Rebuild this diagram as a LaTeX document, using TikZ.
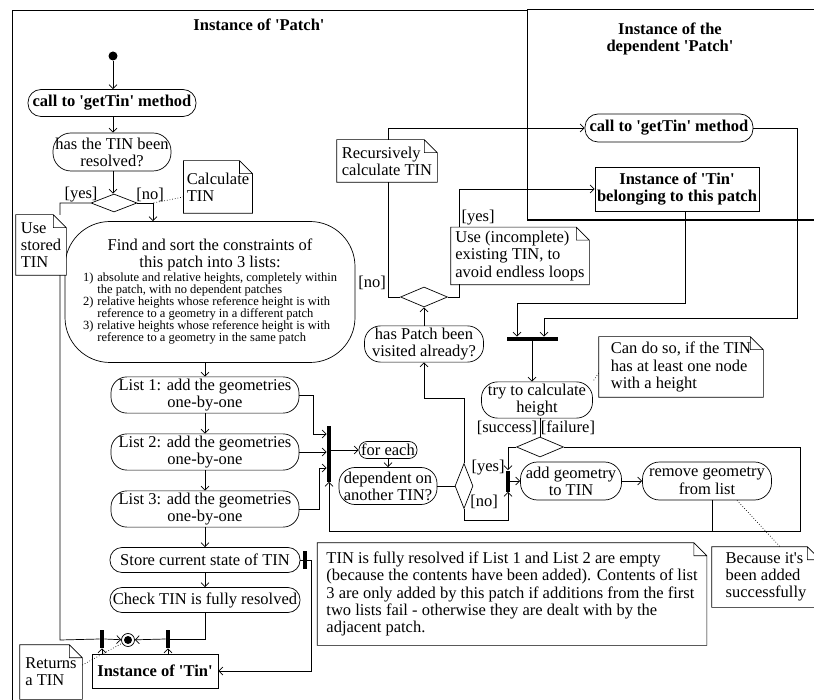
\documentclass[tikz,border=0pt]{standalone}
\usepackage{fontspec}
\setmainfont{Liberation Serif}
\usetikzlibrary{arrows.meta,shapes.geometric}
\newcommand{\quoted}[1]{\textquotesingle#1\textquotesingle}
\newcommand{\listfont}{\fontsize{12.5}{10.7}\selectfont}
\newcommand{\boldfont}{\fontsize{16.5}{17.2}\selectfont\bfseries}
% note outline with a folded corner
\newcommand{\notefold}[1]{%
  \draw ([xshift=-13pt]#1.north east) -- (#1.north west) -- (#1.south west)
    -- (#1.south east) -- ([yshift=-13pt]#1.north east) -- cycle
    ([xshift=-13pt]#1.north east) |- ([yshift=-13pt]#1.north east);}

\begin{document}
\begin{tikzpicture}[
  x=1pt, y=-1pt,
  font=\fontsize{16.5}{17.2}\selectfont,
  line width=0.7pt,
  act/.style={draw, rounded corners=14pt, align=center, inner sep=2pt},
  obj/.style={draw, align=center, inner sep=2pt, font=\boldfont},
  dec/.style={draw, diamond, inner sep=0pt},
  bar/.style={fill=black, inner sep=0pt},
  note/.style={fill=white, align=left, inner sep=3pt},
  guard/.style={inner sep=1pt},
  flow/.style={-{Straight Barb[length=4pt,width=8pt]}},
  hint/.style={dotted}
]
\useasboundingbox (0,0) rectangle (814,700);

% swimlane frames
\draw (12,700) |- (527,10);
\draw (814,9) -| (527,220);
\draw[line width=1.2pt] (527,220) -- (814,220);
\node[font=\boldfont] (ptitle) at (259,25) {Instance of \quoted{Patch}};
\node[font=\boldfont, align=center] (dtitle) at (670,39) {Instance of the\\dependent \quoted{Patch}};

% main column
\node[circle, fill, inner sep=0pt, minimum size=9] (start) at (113,56) {};
\node[act, rounded corners=13pt, font=\boldfont, minimum width=168, minimum height=27] (call) at (112,103) {call to \quoted{getTin} method};
\node[act, rounded corners=18pt, minimum width=118, minimum height=38] (resolved) at (112,152) {has the TIN been\\resolved?};
\node[dec, minimum width=46, minimum height=18] (d1) at (114,203) {};
\node[act, rounded corners=45pt, minimum width=290, minimum height=141] (find) at (210,292) {Find and sort the constraints of\\this patch into 3 lists:\\[1pt]
  {\listfont\begin{tabular}{@{}l@{\hspace{4pt}}l@{}}
  1)&absolute and relative heights, completely within\\
    &the patch, with no dependent patches\\
  2)&relative heights whose reference height is with\\
    &reference to a geometry in a different patch\\
  3)&relative heights whose reference height is with\\
    &reference to a geometry in the same patch
  \end{tabular}}};
\node[act, rounded corners=16pt, minimum width=188, minimum height=35] (list1) at (205,395) {List 1: add the geometries\\one-by-one};
\node[act, rounded corners=16pt, minimum width=188, minimum height=35] (list2) at (205,452) {List 2: add the geometries\\one-by-one};
\node[act, rounded corners=16pt, minimum width=188, minimum height=36] (list3) at (205,509) {List 3: add the geometries\\one-by-one};
\node[act, rounded corners=12pt, minimum width=190, minimum height=25] (store) at (205,560) {Store current state of TIN};
\node[act, rounded corners=12pt, minimum width=190, minimum height=25] (check) at (205,600) {Check TIN is fully resolved};
\node[bar, minimum width=4, minimum height=18] (sbar) at (305,560) {};
\node[bar, minimum width=4, minimum height=18] (jbarL) at (102,639) {};
\node[bar, minimum width=4, minimum height=18] (jbarR) at (168,639) {};
\node[circle, draw, inner sep=0pt, minimum size=13] (final) at (128,640) {};
\fill (final.center) circle (4);
\node[obj, minimum width=126, minimum height=34] (tin) at (155,671) {Instance of \quoted{Tin}};

% loop over the geometries
\node[bar, minimum width=4, minimum height=55] (fbar) at (329,454) {};
\node[act, rounded corners=8pt, minimum width=58, minimum height=17] (foreach) at (388,450) {for each};
\node[act, rounded corners=16pt, minimum width=98, minimum height=37] (dep) at (388,486) {dependent on\\another TIN?};
\node[dec, minimum width=18, minimum height=45] (d2) at (464,486) {};
\node[act, rounded corners=16pt, minimum width=119, minimum height=36] (visited) at (424,344) {has Patch been\\visited already?};
\node[dec, minimum width=47, minimum height=20] (d3) at (424,297) {};
\node[bar, minimum width=51, minimum height=4] (hbar) at (532,339) {};
\node[act, rounded corners=16pt, minimum width=111, minimum height=35] (trycalc) at (537,400) {try to calculate\\height};
\node[dec, minimum width=47, minimum height=20] (d4) at (540,447) {};
\node[bar, minimum width=4, minimum height=21] (abar) at (508,481) {};
\node[act, rounded corners=17pt, minimum width=101, minimum height=38] (add) at (571,481) {add geometry\\to TIN};
\node[act, rounded corners=17pt, minimum width=129, minimum height=38] (remove) at (707,481) {remove geometry\\from list};

% dependent patch
\node[act, rounded corners=13pt, font=\boldfont, minimum width=168, minimum height=28] (dcall) at (669,128) {call to \quoted{getTin} method};
\node[obj, minimum width=164, minimum height=44] (dtin) at (677,189) {Instance of \quoted{Tin}\\belonging to this patch};

% guards
\node[guard] (yes1) at (81,195) {[yes]};
\node[guard] (no1) at (150,195) {[no]};
\node[guard] (no2) at (372,283) {[no]};
\node[guard] (yes2) at (478,218) {[yes]};
\node[guard] (success) at (507,428) {[success]};
\node[guard] (failure) at (568,428) {[failure]};
\node[guard] (yes3) at (488,468) {[yes]};
\node[guard] (no3) at (484,502) {[no]};

\coordinate (cornerL) at (60,640);
\coordinate (nobranch) at (153,203);
\coordinate (sturn) at (311,560);
\coordinate (noturn) at (388,128);
\coordinate (yesturn) at (459,189);
\coordinate (bendA) at (517,303);
\coordinate (bendB) at (797,318);
\coordinate (loopR) at (800,531);

\draw[flow] (start) -- (start |- call.north);
\draw[flow] (start |- call.south) -- (start |- resolved.north);
\draw[flow] (start |- resolved.south) -- (d1.north -| start);
\draw (d1.west) -| (cornerL) -- (jbarL.west);
\draw[flow] (d1.east) -| ([xshift=-57pt]find.north);
\draw[flow] (find.south -| list1.north) -- (list1.north);
\draw[flow] (list1) -- (list2);
\draw[flow] (list2) -- (list3);
\draw[flow] (list3) -- (store);
\draw[flow] (store) -- (check);
\draw (store.east) -- (sbar.west);
\draw[flow] (sbar.east) -- (sturn) |- (tin.east);
\draw (check.south) |- (jbarR.east);
\draw[flow] (jbarL.east) -- (final);
\draw[flow] (jbarR.west) -- (final);
\draw[flow] (tin.north -| jbarL) -- (jbarL.south);
\draw[flow] (tin.north -| jbarR) -- (jbarR.south);

\draw[flow] (list1.east) -- ++(14,0) |- ([yshift=20pt]fbar.west);
\draw[flow] (list2.east) -- (list2.east -| fbar.west);
\draw[flow] (list3.east) -- ++(20,0) |- ([yshift=-14pt]fbar.west);
\draw[flow] (fbar.east |- foreach) -- (foreach);
\draw[flow] (foreach) -- (dep);
\draw (dep) -- (d2);
\draw[flow] (d2.north) |- ([yshift=-36pt]visited.south) -- (visited.south);
\draw[flow] (d2.south) -- ++(0,11) -| (abar.south);
\draw[flow] (visited) -- (d3);
\draw[flow] (d3.west) -| (noturn) -- (dcall.west);
\draw[flow] (d3.east) -| (yesturn) -- (dtin.west);
\draw[flow] ([xshift=8pt]dtin.south) |- (bendA) -- (bendA |- hbar.north);
\draw[flow] (dcall.east) -| (bendB) -| ([xshift=12pt]hbar.north);
\draw[flow] (hbar.south) -- (hbar.south |- trycalc.north);
\draw (d4.north |- trycalc.south) -- (d4.north);
\draw[flow] (d4.west) -| (abar.north);
\draw[flow] (d4.east) -| (loopR) -| (fbar.south);
\draw[flow] (abar.east |- add) -- (add);
\draw[flow] (add) -- (remove);
\draw ([xshift=5pt]remove.south) -- ([xshift=5pt]remove.south |- loopR);

% notes
\node[note, minimum width=50, minimum height=60] (stored) at (41,245) {Use\\stored\\TIN};
\notefold{stored}
\node[note, minimum width=68, minimum height=52] (calc) at (218,187) {Calculate\\TIN};
\notefold{calc}
\node[note, minimum width=100, minimum height=42] (recur) at (387,161) {Recursively\\calculate TIN};
\notefold{recur}
\node[note, minimum width=138, minimum height=57] (useinc) at (520,256) {Use (incomplete)\\existing TIN, to\\avoid endless loops};
\notefold{useinc}
\node[note, minimum width=164, minimum height=60] (cando) at (681,367) {Can do so, if the TIN\\has at least one node\\with a height};
\notefold{cando}
\node[note, minimum width=108, minimum height=60] (because) at (766,577) {Because it\textquotesingle s\\been added\\successfully};
\notefold{because}
\node[note, minimum width=389, minimum height=102] (fully) at (512,594) {TIN is fully resolved if List 1 and List 2 are empty\\(because the contents have been added). Contents of list\\3 are only added by this patch if additions from the first\\two lists fail - otherwise they are dealt with by the\\adjacent patch.};
\notefold{fully}
\node[note, minimum width=62, minimum height=54] (returns) at (51,672) {Returns\\a TIN};
\notefold{returns}

\draw[hint] ([yshift=-10pt]calc.west) -- (nobranch);
\draw[hint] ([yshift=7pt]returns.east) -- (final);
\draw[hint] ([yshift=-6pt]cando.west) -- (trycalc.north east);
\draw[hint] ([xshift=30pt]remove.south) -- ([xshift=14pt]because.north);
\end{tikzpicture}
\end{document}
